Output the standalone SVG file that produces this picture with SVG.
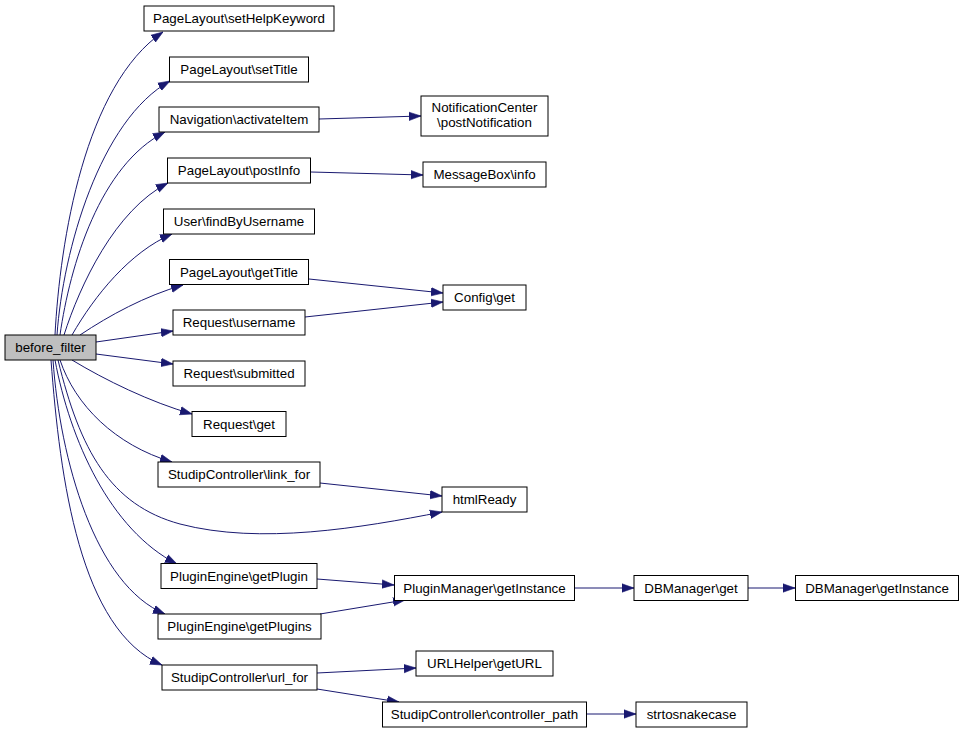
<svg xmlns="http://www.w3.org/2000/svg" width="964" height="733" viewBox="0 0 964 733">
<defs>
<style>
.n rect{fill:#ffffff;stroke:#000000;stroke-width:1}
.n text{font-family:"Liberation Sans",Arial,sans-serif;font-size:13.33px;text-anchor:middle;fill:#000000}
#e path{fill:none;stroke:#191970;stroke-width:1;marker-end:url(#ah)}
</style>
<marker id="ah" markerUnits="userSpaceOnUse" markerWidth="12" markerHeight="10" refX="10" refY="3.5" orient="auto" viewBox="0 0 10 7">
<path d="M0,0 L10,3.5 L0,7 Z" fill="#191970" stroke="#191970" stroke-width="0.5"/>
</marker>
</defs>
<rect width="964" height="733" fill="#ffffff"/>
<g id="e">
<path d="M55,335 C60,240 85,85 163,32"/>
<path d="M57,335 C63,250 100,120 170,81"/>
<path d="M60,335 C70,265 100,165 165,132"/>
<path d="M64,335 C80,285 115,210 168,183"/>
<path d="M72,335 C95,295 130,252 172,234"/>
<path d="M80,335 C110,315 145,296 183,285"/>
<path d="M96,342 L173,331"/>
<path d="M96,354 L173,364"/>
<path d="M72,360 C105,380 150,402 192,414"/>
<path d="M60,360 C75,405 115,445 172,462"/>
<path d="M58,360 C80,450 110,505 180,524 C260,545 360,528 442,512"/>
<path d="M55,360 C70,440 110,530 177,564"/>
<path d="M53,360 C60,460 95,585 165,614"/>
<path d="M51,360 C60,480 80,630 162,665"/>
<path d="M319,119 L421,116"/>
<path d="M311,172 L423,175"/>
<path d="M309,279 L443,293"/>
<path d="M305,317 L443,302"/>
<path d="M320,483 L442,496"/>
<path d="M317,579 L394,585"/>
<path d="M320,614 L405,600"/>
<path d="M575,588 L634,588"/>
<path d="M748,588 L795,588"/>
<path d="M317,673 L416,668"/>
<path d="M317,689 L399,702"/>
<path d="M587,714 L636,714"/>
</g>
<g id="before_filter" class="n"><rect x="5" y="335" width="91" height="25" style="fill:#bfbfbf"/><text x="50.5" y="352">before_filter</text></g>
<g id="setHelpKeyword" class="n"><rect x="144" y="6" width="190" height="25"/><text x="239" y="23">PageLayout\setHelpKeyword</text></g>
<g id="setTitle" class="n"><rect x="169.5" y="57" width="139" height="25"/><text x="239" y="74">PageLayout\setTitle</text></g>
<g id="activateItem" class="n"><rect x="159" y="107" width="160" height="25"/><text x="239" y="124">Navigation\activateItem</text></g>
<g id="postInfo" class="n"><rect x="167.5" y="158" width="143" height="25"/><text x="239" y="175">PageLayout\postInfo</text></g>
<g id="findByUsername" class="n"><rect x="163.5" y="209" width="151" height="25"/><text x="239" y="226">User\findByUsername</text></g>
<g id="getTitle" class="n"><rect x="169.5" y="259.5" width="139" height="25"/><text x="239" y="276.5">PageLayout\getTitle</text></g>
<g id="username" class="n"><rect x="173" y="310" width="132" height="25"/><text x="239" y="327">Request\username</text></g>
<g id="submitted" class="n"><rect x="173" y="361" width="132" height="25"/><text x="239" y="378">Request\submitted</text></g>
<g id="requestget" class="n"><rect x="192" y="411.5" width="94" height="25"/><text x="239" y="428.5">Request\get</text></g>
<g id="link_for" class="n"><rect x="158" y="462" width="162" height="25"/><text x="239" y="479">StudipController\link_for</text></g>
<g id="getPlugin" class="n"><rect x="161" y="563.5" width="156" height="25"/><text x="239" y="580.5">PluginEngine\getPlugin</text></g>
<g id="getPlugins" class="n"><rect x="158" y="614" width="163" height="25"/><text x="239.5" y="631">PluginEngine\getPlugins</text></g>
<g id="url_for" class="n"><rect x="162" y="665" width="155" height="25"/><text x="239.5" y="682">StudipController\url_for</text></g>
<g id="postNotification" class="n"><rect x="421" y="96" width="127" height="40"/><text x="484.5" y="112">NotificationCenter</text><text x="484.5" y="127">\postNotification</text></g>
<g id="messagebox" class="n"><rect x="423" y="162" width="123" height="25"/><text x="484.5" y="179">MessageBox\info</text></g>
<g id="configget" class="n"><rect x="443" y="285" width="83" height="25"/><text x="484.5" y="302">Config\get</text></g>
<g id="htmlReady" class="n"><rect x="442" y="487" width="85" height="25"/><text x="484.5" y="504">htmlReady</text></g>
<g id="pm_getInstance" class="n"><rect x="394.5" y="575.5" width="180" height="25"/><text x="484.5" y="592.5">PluginManager\getInstance</text></g>
<g id="getURL" class="n"><rect x="416" y="651" width="137" height="25"/><text x="484.5" y="668">URLHelper\getURL</text></g>
<g id="controller_path" class="n"><rect x="382.5" y="702" width="204" height="25"/><text x="484.5" y="719">StudipController\controller_path</text></g>
<g id="dbget" class="n"><rect x="634" y="575.5" width="114" height="25"/><text x="691" y="592.5">DBManager\get</text></g>
<g id="db_getInstance" class="n"><rect x="795.5" y="575.5" width="163" height="25"/><text x="877" y="592.5">DBManager\getInstance</text></g>
<g id="strtosnakecase" class="n"><rect x="636" y="702" width="111" height="25"/><text x="691.5" y="719">strtosnakecase</text></g>
</svg>
